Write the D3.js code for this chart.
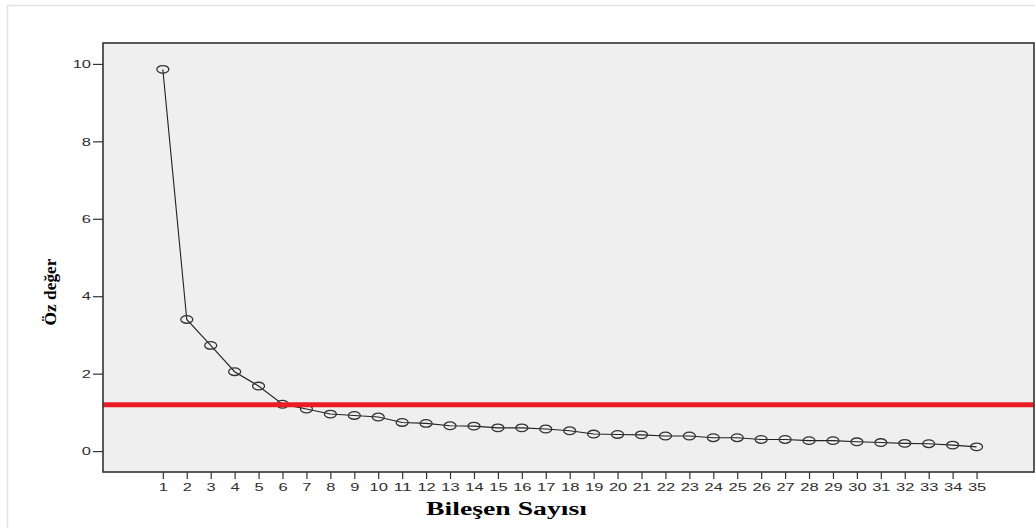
<!DOCTYPE html>
<html>
<head>
<meta charset="utf-8">
<script src="https://cdn.jsdelivr.net/npm/d3@7"></script>
<style>
  body { margin: 0; background: #fff; }
  svg { display: block; }
</style>
</head>
<body>
<div class="scree-container"></div>
<script>
"use strict";

// component numbers (x) and eigenvalues
let components = d3.range(1, 36);
let eigenvalues = [9.86, 3.40, 2.73, 2.05, 1.68, 1.21, 1.085, 0.956, 0.92, 0.88,
  0.74, 0.715, 0.654, 0.646, 0.60, 0.60, 0.57, 0.525, 0.44, 0.43,
  0.42, 0.39, 0.39, 0.345, 0.345, 0.30, 0.30, 0.27, 0.27, 0.24,
  0.22, 0.20, 0.19, 0.155, 0.11];
let yTicks = [0, 2, 4, 6, 8, 10];
let cutoff = [1.2];
let xTitle = "Bileşen Sayısı";
let yTitle = "Öz değer";

let width = 1035, height = 528;
let plot = { left: 103, top: 43, right: 1034, bottom: 472 };

// the source picture is stretched sideways, so text gets stretched too
let stretch = 1.5;
let tickFont = 11.5;

let svg = d3.select('.scree-container').append('svg')
  .attr('width', width)
  .attr('height', height);

// outer frame
svg.append('rect')
  .attr('x', 7.5).attr('y', 5.5)
  .attr('width', 1100).attr('height', 600)
  .attr('fill', 'none')
  .attr('stroke', '#e2e2e2')
  .attr('stroke-width', 1.5);

let x = d3.scaleLinear().domain([-1.5, 37.4]).range([plot.left, plot.right]);
let y = d3.scaleLinear().domain([-0.54, 10.54]).range([plot.bottom, plot.top]);

// plot background
svg.append('rect')
  .attr('x', plot.left).attr('y', plot.top)
  .attr('width', plot.right - plot.left)
  .attr('height', plot.bottom - plot.top)
  .attr('fill', '#efefef');

function styleTicks(g) {
  g.select('.domain').remove();
  g.selectAll('.tick line').attr('stroke', '#333').attr('stroke-width', 1.2);
  g.selectAll('.tick text')
    .attr('fill', '#2e2e2e')
    .style('font-family', '"Liberation Sans", Arial, sans-serif')
    .style('font-size', tickFont + 'px')
    .attr('lengthAdjust', 'spacingAndGlyphs')
    .attr('textLength', function () {
      return this.textContent.length * 0.556 * 11 * stretch;
    });
}

svg.append('g')
  .attr('transform', 'translate(0,' + plot.bottom + ')')
  .call(d3.axisBottom(x).tickValues(components).tickFormat(d3.format('d')).tickSize(7).tickPadding(4))
  .call(styleTicks);

svg.append('g')
  .attr('transform', 'translate(' + plot.left + ',0)')
  .call(d3.axisLeft(y).tickValues(yTicks).tickFormat(d3.format('d')).tickSize(10).tickPadding(2))
  .call(styleTicks);

// scree line
let line = d3.line()
  .x(function (d, i) { return x(components[i]); })
  .y(function (d) { return y(d); });

svg.append('path')
  .datum(eigenvalues)
  .attr('d', line)
  .attr('fill', 'none')
  .attr('stroke', '#222')
  .attr('stroke-width', 1.1);

// markers (ellipses because of the stretched source)
svg.selectAll('ellipse.pt')
  .data(eigenvalues)
  .enter().append('ellipse')
  .attr('class', 'pt')
  .attr('cx', function (d, i) { return x(components[i]); })
  .attr('cy', function (d) { return y(d); })
  .attr('rx', 6)
  .attr('ry', 3.8)
  .attr('fill', 'none')
  .attr('stroke', '#333')
  .attr('stroke-width', 1.3);

// eigenvalue cut-off line
svg.selectAll('line.cut')
  .data(cutoff)
  .enter().append('line')
  .attr('class', 'cut')
  .attr('x1', plot.left).attr('x2', plot.right)
  .attr('y1', function (d) { return y(d); })
  .attr('y2', function (d) { return y(d); })
  .attr('stroke', '#ec1c24')
  .attr('stroke-width', 5);

// plot border
svg.append('rect')
  .attr('x', plot.left).attr('y', plot.top)
  .attr('width', plot.right - plot.left)
  .attr('height', plot.bottom - plot.top)
  .attr('fill', 'none')
  .attr('stroke', '#333')
  .attr('stroke-width', 1.6);

// axis titles
svg.append('text')
  .attr('x', 506.5).attr('y', 515)
  .attr('text-anchor', 'middle')
  .attr('textLength', 161)
  .attr('lengthAdjust', 'spacingAndGlyphs')
  .style('font-family', '"Liberation Serif", "Times New Roman", serif')
  .style('font-weight', 'bold')
  .style('font-size', '18px')
  .attr('fill', '#000')
  .text(xTitle);

svg.append('text')
  .attr('transform', 'translate(56,292) rotate(-90)')
  .attr('text-anchor', 'middle')
  .attr('textLength', 67)
  .attr('lengthAdjust', 'spacingAndGlyphs')
  .style('font-family', '"Liberation Serif", "Times New Roman", serif')
  .style('font-weight', 'bold')
  .style('font-size', '16px')
  .attr('fill', '#000')
  .text(yTitle);
</script>
</body>
</html>
